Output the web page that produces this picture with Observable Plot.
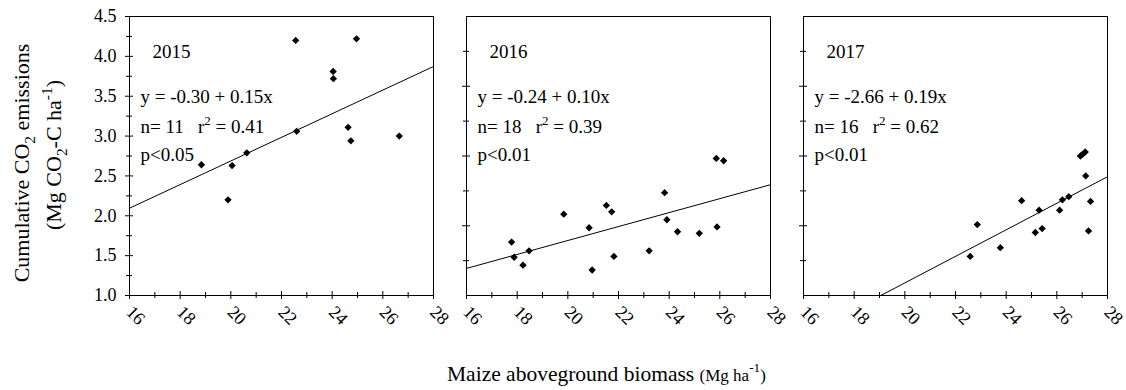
<!DOCTYPE html>
<html><head><meta charset="utf-8">
<script src="https://cdn.jsdelivr.net/npm/d3@7"></script>
<script src="https://cdn.jsdelivr.net/npm/@observablehq/plot@0.6"></script>
<style>
body{margin:0;background:#fff;}
#chart{width:1126px;height:390px;}
</style>
</head><body><div id="chart"></div>
<script>
// ---- data ----
const years = [2015, 2016, 2017];

const biomass2015 = [18.84, 19.89, 20.05, 20.63, 22.56, 22.60, 24.04, 24.05, 24.63, 24.74, 24.96, 26.65];
const co2_2015    = [2.64, 2.20, 2.63, 2.79, 4.20, 3.06, 3.81, 3.72, 3.11, 2.94, 4.22, 3.00];

const biomass2016 = [17.78, 17.88, 18.23, 18.47, 19.84, 20.84, 20.96, 21.52, 21.73, 21.82, 23.21, 23.82, 23.91, 24.33, 25.19, 25.86, 25.89, 26.15];
const co2_2016    = [1.67, 1.48, 1.38, 1.56, 2.02, 1.85, 1.32, 2.13, 2.05, 1.49, 1.56, 2.29, 1.95, 1.80, 1.78, 2.72, 1.86, 2.69];

const biomass2017 = [22.58, 22.86, 23.77, 24.61, 25.15, 25.30, 25.42, 26.11, 26.22, 26.47, 26.93, 27.01, 27.12, 27.14, 27.25, 27.33];
const co2_2017    = [1.49, 1.89, 1.60, 2.19, 1.79, 2.07, 1.84, 2.07, 2.20, 2.24, 2.75, 2.77, 2.80, 2.50, 1.81, 2.18];

// regression line end points as drawn
const lineX1 = [16, 16, 19.05];
const lineY1 = [2.095, 1.34, 1.0];
const lineX2 = [28, 28, 28];
const lineY2 = [3.873, 2.39, 2.49];

const yearLabels = ["2015", "2016", "2017"];
const equations  = ["y = -0.30 + 0.15x", "y = -0.24 + 0.10x", "y = -2.66 + 0.19x"];
const statLines  = ["n= 11\u00a0\u00a0\u00a0r^2 = 0.41", "n= 18\u00a0\u00a0\u00a0r^2 = 0.39", "n= 16\u00a0\u00a0\u00a0r^2 = 0.62"];
const pLines     = ["p<0.05", "p<0.01", "p<0.01"];

const xMajor = [16, 18, 20, 22, 24, 26, 28];
const xMinor = [17, 19, 21, 23, 25, 27];
const xTickLabels = ["16", "18", "20", "22", "24", "26", "28"];

const yMajor1 = [1.0, 1.5, 2.0, 2.5, 3.0, 3.5, 4.0, 4.5];
const yMinor1 = [1.25, 1.75, 2.25, 2.75, 3.25, 3.75, 4.25];
const yTickLabels = ["1.0", "1.5", "2.0", "2.5", "3.0", "3.5", "4.0", "4.5"];
const yMajor23 = [1.875, 2.75, 3.625];
const yMinor23 = [1.4375, 2.3125, 3.1875, 4.0625];

// ---- tables ----
const biomassByYear = [biomass2015, biomass2016, biomass2017];
const co2ByYear = [co2_2015, co2_2016, co2_2017];
const points = years.flatMap((yr, i) => biomassByYear[i].map((b, j) => ({year: yr, x: b, y: co2ByYear[i][j]})));
const lines = years.map((yr, i) => ({year: yr, x1: lineX1[i], y1: lineY1[i], x2: lineX2[i], y2: lineY2[i]}));
const annot = years.map((yr, i) => ({year: yr, label: yearLabels[i], eq: equations[i], stat: statLines[i], p: pLines[i]}));

const yTicksRows = [
  ...yMajor1.map(v => ({year: 2015, y: v, major: true})),
  ...yMinor1.map(v => ({year: 2015, y: v, major: false})),
  ...[2016, 2017].flatMap(yr => [
    ...yMajor23.map(v => ({year: yr, y: v, major: true})),
    ...yMinor23.map(v => ({year: yr, y: v, major: false}))
  ])
];

// ---- layout ----
const W = 1126, H = 390;
const mL = 129, mR = 19, mT = 16, mB = 95;
const pad = 0.098;
const inner = W - mL - mR;
const bw = inner / (3 - pad) * (1 - pad);
const ph = H - mT - mB;

const svg = Plot.plot({
  width: W, height: H,
  marginLeft: mL, marginRight: mR, marginTop: mT, marginBottom: mB,
  style: {fontFamily: "'Liberation Serif', 'Times New Roman', serif", fontSize: "18px", color: "black", background: "white"},
  fx: {domain: years, paddingInner: pad, paddingOuter: 0, round: false, axis: null, label: null},
  x: {domain: [16, 28], axis: null},
  y: {domain: [1.0, 4.5], axis: null},
  marks: [
    Plot.frame({stroke: "black", strokeWidth: 1}),
    // x ticks crossing the bottom axis
    Plot.tickX(xMajor, {x: d => d, stroke: "black", insetTop: ph - 4, insetBottom: -4}),
    Plot.tickX(xMinor, {x: d => d, stroke: "black", insetTop: ph - 3, insetBottom: -3}),
    // y ticks crossing the left axis
    Plot.tickY(yTicksRows.filter(d => d.major), {fx: "year", y: "y", stroke: "black", insetLeft: -4, insetRight: bw - 4}),
    Plot.tickY(yTicksRows.filter(d => !d.major), {fx: "year", y: "y", stroke: "black", insetLeft: -3, insetRight: bw - 3}),
    // tick labels
    Plot.text(xMajor, {x: d => d, text: (d, i) => xTickLabels[i], frameAnchor: "bottom", dy: 24, dx: 2, rotate: 45, textAnchor: "middle", fontSize: 18}),
    Plot.text(yMajor1, {fx: () => 2015, y: d => d, text: (d, i) => yTickLabels[i], frameAnchor: "left", dx: -13, textAnchor: "end", fontSize: 18}),
    // regression lines
    Plot.link(lines, {fx: "year", x1: "x1", y1: "y1", x2: "x2", y2: "y2", stroke: "black", strokeWidth: 1}),
    // points
    Plot.dot(points, {fx: "year", x: "x", y: "y", symbol: "diamond2", r: 3.3, fill: "black", stroke: "none"}),
    // annotations
    Plot.text(annot, {fx: "year", text: "label", frameAnchor: "top-left", dx: 23, dy: 28, textAnchor: "start", fontSize: 19}),
    Plot.text(annot, {fx: "year", text: "eq", frameAnchor: "top-left", dx: 11, dy: 73, textAnchor: "start", fontSize: 19}),
    Plot.text(annot, {fx: "year", text: "stat", frameAnchor: "top-left", dx: 11, dy: 103, textAnchor: "start", fontSize: 19}),
    Plot.text(annot, {fx: "year", text: "p", frameAnchor: "top-left", dx: 11, dy: 131, textAnchor: "start", fontSize: 19})
  ]
});

// superscript handling for "^x" tokens
d3.select(svg).selectAll("text").each(function() {
  const t = this.textContent;
  if (!t.includes("^")) return;
  const m = t.match(/^(.*)\^(\S)(.*)$/);
  if (!m) return;
  const el = d3.select(this);
  el.text(null);
  el.append("tspan").text(m[1]);
  el.append("tspan").attr("dy", -8).attr("font-size", 13).text(m[2]);
  el.append("tspan").attr("dy", 8).text(m[3]);
});

function rich(g, parts, size) {
  const el = g.append("text").attr("font-size", size).attr("fill", "black");
  let shift = 0;
  for (const p of parts) {
    const fs = p.fs || size;
    const target = p.s === "sub" ? size * 0.25 : p.s === "sup" ? -size * 0.4 : 0;
    el.append("tspan").attr("dy", target - shift).attr("font-size", p.s ? fs * 0.7 : fs).text(p.t);
    shift = target;
  }
  return el;
}

const root = d3.select(svg);
const g = root.append("g").attr("font-family", "'Liberation Serif', 'Times New Roman', serif");
rich(g, [{t: "Cumulative CO"}, {t: "2", s: "sub"}, {t: " emissions"}], 22)
  .attr("text-anchor", "middle").attr("transform", "translate(29,163) rotate(-90)");
rich(g, [{t: "(Mg CO"}, {t: "2", s: "sub"}, {t: "-C ha"}, {t: "-1", s: "sup"}, {t: ")"}], 22)
  .attr("text-anchor", "middle").attr("transform", "translate(61,155) rotate(-90)");
rich(g, [{t: "Maize aboveground biomass "}, {t: "(Mg ha", fs: 17}, {t: "-1", s: "sup", fs: 19}, {t: ")", fs: 17}], 21.5)
  .attr("text-anchor", "start").attr("x", 447).attr("y", 381);

document.getElementById("chart").appendChild(svg);
</script>
</body></html>
